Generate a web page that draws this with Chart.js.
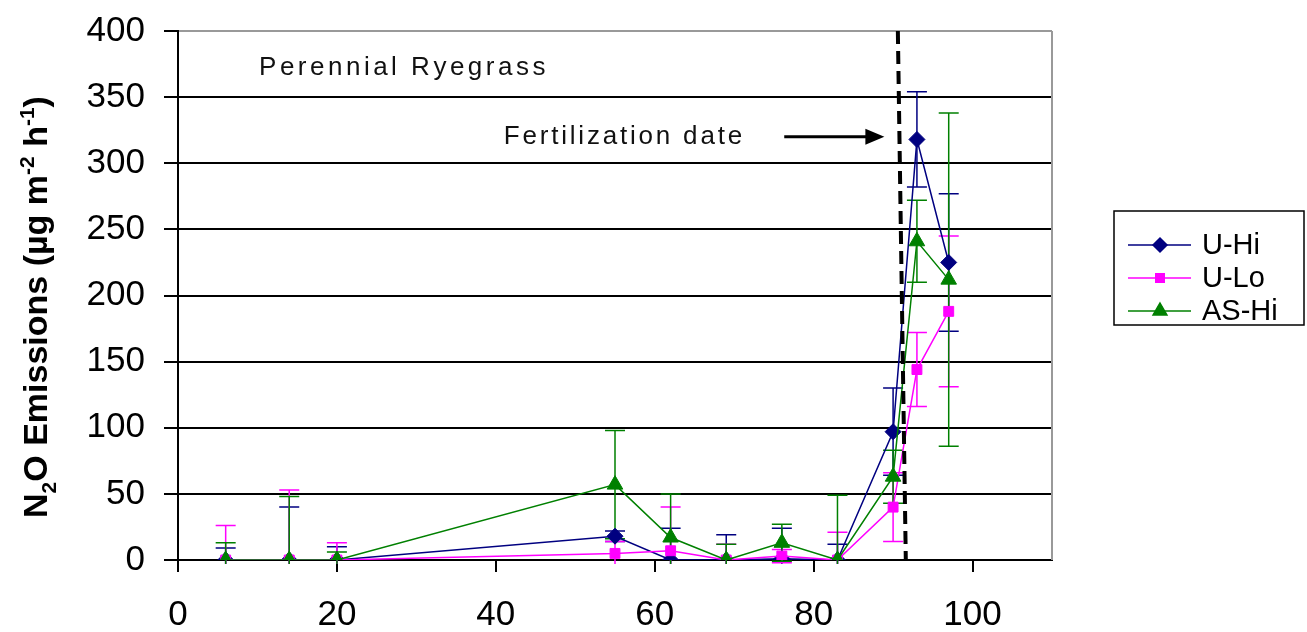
<!DOCTYPE html>
<html>
<head>
<meta charset="utf-8">
<script src="https://cdn.jsdelivr.net/npm/chart.js@4.4.1/dist/chart.umd.min.js"></script>
<style>
    body { margin: 0; background: #fff; }
</style>
</head>
<body>
<canvas id="n2oChart" width="1307" height="632"></canvas>
<script>
    var FONT = "'Liberation Sans', Arial, sans-serif";

    // days after planting
    var days = [6, 14, 20, 55, 62, 69, 76, 83, 90, 93, 97];

    var seriesNames = ['U-Hi', 'U-Lo', 'AS-Hi'];
    var uHi = [0, 0, 0, 18, 0, 0, 1, 0, 97, 318, 225];
    var uLo = [0, 0, 0, 5, 7, 0, 3, 0, 40, 144, 188];
    var asHi = [0, 0, 0, 57, 17, 0, 13, 0, 63, 241, 212];

    // symmetric error bars
    var uHiErr = [9, 40, 10, 4, 24, 19, 23, 12, 33, 36, 52];
    var uLoErr = [26, 53, 13, 9, 33, 12, 5, 21, 26, 28, 57];
    var asHiErr = [13, 48, 6, 41, 33, 12, 14, 49, 20, 31, 126];

    var yTicks = [0, 50, 100, 150, 200, 250, 300, 350, 400];
    var xTicks = [0, 20, 40, 60, 80, 100];

    var fertLine = [[90.6, 400], [91.6, 0]];

    function toPoints(values) {
        return days.map(function (d, i) { return { x: d, y: values[i] }; });
    }

    var colors = ['#000080', '#ff00ff', '#008000'];
    var styles = ['rectRot', 'rect', 'triangle'];
    var radii = [8, 7, 9];
    var values = [uHi, uLo, asHi];
    var errors = [uHiErr, uLoErr, asHiErr];

    var datasets = seriesNames.map(function (name, i) {
        return {
            label: name,
            data: toPoints(values[i]),
            errors: errors[i],
            showLine: true,
            borderColor: colors[i],
            backgroundColor: colors[i],
            borderWidth: 1.5,
            pointStyle: styles[i],
            pointRadius: radii[i],
            pointBorderWidth: 1,
            order: 2 - i
        };
    });

    var errorBars = {
        id: 'errorBars',
        beforeDatasetsDraw: function (chart) {
            var ctx = chart.ctx;
            var xs = chart.scales.x, ys = chart.scales.y;
            var a = chart.chartArea;
            ctx.save();
            // bars are cut at the axis like in the original
            ctx.beginPath();
            ctx.rect(a.left, a.top - 2, a.right - a.left, a.bottom - a.top + 6);
            ctx.clip();
            chart.data.datasets.forEach(function (ds) {
                ctx.strokeStyle = ds.borderColor;
                ctx.lineWidth = 1.5;
                ds.data.forEach(function (p, j) {
                    var e = ds.errors[j];
                    var px = xs.getPixelForValue(p.x);
                    var top = ys.getPixelForValue(p.y + e);
                    var bot = ys.getPixelForValue(p.y - e);
                    ctx.beginPath();
                    ctx.moveTo(px, top); ctx.lineTo(px, bot);
                    ctx.moveTo(px - 10, top); ctx.lineTo(px + 10, top);
                    ctx.moveTo(px - 10, bot); ctx.lineTo(px + 10, bot);
                    ctx.stroke();
                });
            });
            ctx.restore();
        }
    };

    var extras = {
        id: 'extras',
        beforeDatasetsDraw: function (chart) {
            var ctx = chart.ctx;
            var a = chart.chartArea;
            ctx.save();
            // plot border, right side
            ctx.strokeStyle = '#999';
            ctx.lineWidth = 2;
            ctx.beginPath();
            ctx.moveTo(a.right, a.top);
            ctx.lineTo(a.right, a.bottom);
            ctx.stroke();
            ctx.restore();
        },
        afterDatasetsDraw: function (chart) {
            var ctx = chart.ctx;
            var xs = chart.scales.x, ys = chart.scales.y;
            ctx.save();

            // fertilization date line
            ctx.strokeStyle = '#000';
            ctx.lineWidth = 4;
            ctx.setLineDash([13, 7]);
            ctx.beginPath();
            ctx.moveTo(xs.getPixelForValue(fertLine[0][0]), ys.getPixelForValue(fertLine[0][1]));
            ctx.lineTo(xs.getPixelForValue(fertLine[1][0]), ys.getPixelForValue(fertLine[1][1]));
            ctx.stroke();
            ctx.setLineDash([]);

            // arrow
            var ay = ys.getPixelForValue(320);
            var ax0 = xs.getPixelForValue(76.3);
            var ax1 = xs.getPixelForValue(88.9);
            ctx.lineWidth = 3;
            ctx.beginPath();
            ctx.moveTo(ax0, ay);
            ctx.lineTo(ax1 - 16, ay);
            ctx.stroke();
            ctx.fillStyle = '#000';
            ctx.beginPath();
            ctx.moveTo(ax1, ay);
            ctx.lineTo(ax1 - 19, ay - 8);
            ctx.lineTo(ax1 - 19, ay + 8);
            ctx.closePath();
            ctx.fill();

            // text labels
            ctx.fillStyle = '#111';
            ctx.font = '26px ' + FONT;
            ctx.letterSpacing = '3.5px';
            ctx.textAlign = 'left';
            ctx.textBaseline = 'middle';
            ctx.fillText('Perennial Ryegrass', xs.getPixelForValue(10.2), ys.getPixelForValue(372));
            ctx.letterSpacing = '2.8px';
            ctx.fillText('Fertilization date', xs.getPixelForValue(41), ys.getPixelForValue(320));
            ctx.letterSpacing = '0px';
            ctx.restore();
        },
        afterDraw: function (chart) {
            var ctx = chart.ctx;
            ctx.save();

            // y axis title with sub/superscripts
            var big = 'bold 34px ' + FONT;
            var small = 'bold 21px ' + FONT;
            var parts = [
                ['N', big, 0], ['2', small, 9], ['O Emissions (\u00b5g m', big, 0],
                ['-2', small, -13], [' h', big, 0], ['-1', small, -13], [')', big, 0]
            ];
            var total = 0;
            parts.forEach(function (p) { ctx.font = p[1]; total += ctx.measureText(p[0]).width; });
            ctx.translate(47, 307);
            ctx.rotate(-Math.PI / 2);
            ctx.fillStyle = '#000';
            ctx.textBaseline = 'alphabetic';
            ctx.textAlign = 'left';
            var cx = -total / 2;
            parts.forEach(function (p) {
                ctx.font = p[1];
                ctx.fillText(p[0], cx, p[2]);
                cx += ctx.measureText(p[0]).width;
            });
            ctx.restore();

            // legend
            ctx.save();
            ctx.strokeStyle = '#000';
            ctx.lineWidth = 1.5;
            ctx.strokeRect(1114, 211, 190, 114);
            chart.data.datasets.forEach(function (ds, i) {
                var y = 245 + i * 33;
                ctx.strokeStyle = ds.borderColor;
                ctx.lineWidth = 1.5;
                ctx.beginPath();
                ctx.moveTo(1128, y);
                ctx.lineTo(1191, y);
                ctx.stroke();
                Chart.helpers.drawPoint(ctx, {
                    pointStyle: ds.pointStyle,
                    radius: ds.pointRadius - 1,
                    borderWidth: 1
                }, 1160, y);
                ctx.fillStyle = ds.backgroundColor;
                ctx.fill();
                ctx.fillStyle = '#000';
                ctx.font = '29px ' + FONT;
                ctx.textBaseline = 'middle';
                ctx.textAlign = 'left';
                ctx.fillText(ds.label, 1202, y + 1);
            });
            ctx.restore();
        }
    };

    var ctxChart = document.getElementById('n2oChart').getContext('2d');
    var n2oChart = new Chart(ctxChart, {
        type: 'scatter',
        data: { datasets: datasets },
        options: {
            responsive: false,
            animation: false,
            layout: { padding: { top: 31, right: 255, left: 0, bottom: 0 } },
            plugins: {
                legend: { display: false },
                tooltip: { enabled: false }
            },
            scales: {
                x: {
                    type: 'linear',
                    min: 0,
                    max: 110,
                    afterBuildTicks: function (scale) {
                        scale.ticks = xTicks.map(function (v) { return { value: v }; });
                    },
                    afterFit: function (scale) {
                        scale.height = 72;
                        scale.paddingLeft = 0;
                        scale.paddingRight = 0;
                    },
                    grid: {
                        drawOnChartArea: false,
                        color: '#000',
                        lineWidth: 2,
                        tickLength: 12
                    },
                    border: { color: '#000', width: 2 },
                    ticks: {
                        color: '#000',
                        padding: 22,
                        maxRotation: 0,
                        font: { family: FONT, size: 35 }
                    }
                },
                y: {
                    min: 0,
                    max: 400,
                    afterBuildTicks: function (scale) {
                        scale.ticks = yTicks.map(function (v) { return { value: v }; });
                    },
                    afterFit: function (scale) {
                        scale.width = 178;
                        scale.paddingTop = 0;
                        scale.paddingBottom = 0;
                    },
                    grid: {
                        color: function (c) { return c.tick && c.tick.value === 400 ? '#999' : '#000'; },
                        tickColor: '#000',
                        lineWidth: 2,
                        tickLength: 14
                    },
                    border: { color: '#000', width: 2 },
                    ticks: {
                        color: '#000',
                        padding: 19,
                        font: { family: FONT, size: 35 }
                    }
                }
            }
        },
        plugins: [errorBars, extras]
    });
</script>
</body>
</html>
